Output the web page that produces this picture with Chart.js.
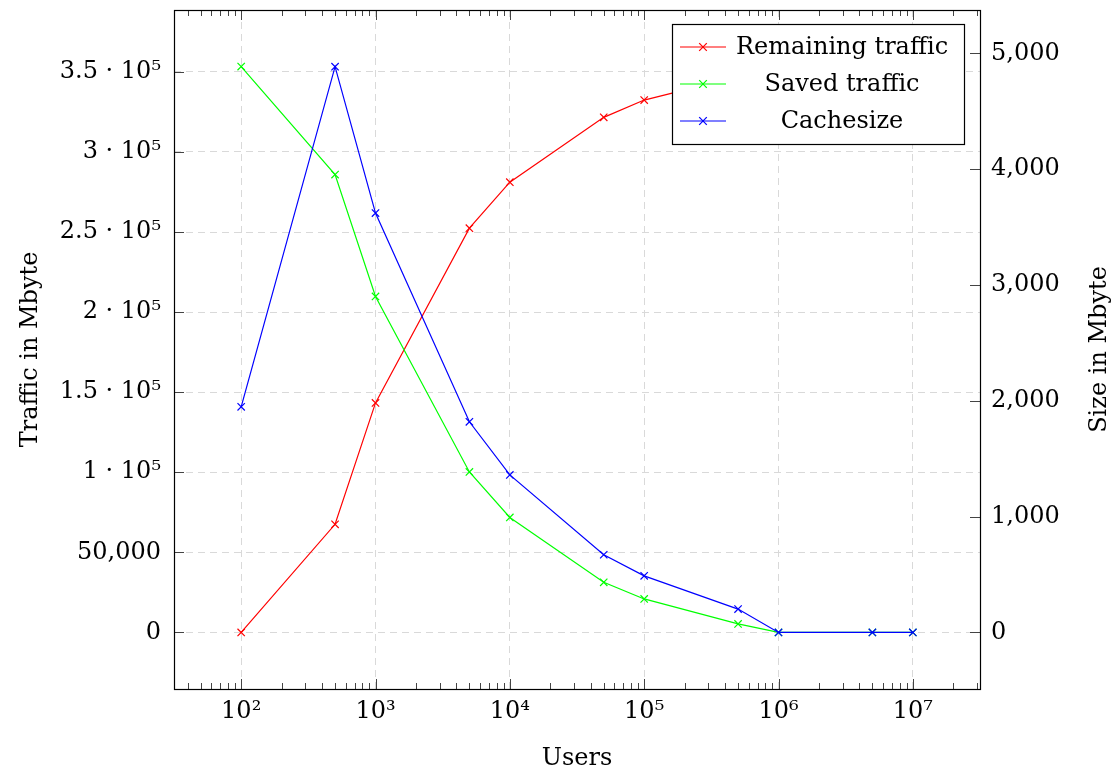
<!DOCTYPE html>
<html>
<head>
<meta charset="utf-8">
<script src="https://cdn.jsdelivr.net/npm/chart.js@4/dist/chart.umd.min.js"></script>
<style>
html,body{margin:0;padding:0;background:#fff;}
#wrap{width:1115px;height:772px;position:relative;}
</style>
</head>
<body>
<div id="wrap"><canvas id="c"></canvas></div>
<script>
// ---- data ----
const users = [100, 500, 1000, 5000, 10000, 50000, 100000, 500000, 1000000, 5000000, 10000000];
const remainingTraffic = [0, 67500, 143300, 252400, 281100, 321600, 332400, 347000, 352000, 352000, 352000];
const savedTraffic = [353300, 285900, 209800, 100200, 71800, 31300, 20900, 5300, 0, 0, 0];
const cacheSize = [1948, 4885, 3621, 1819, 1360, 671, 489, 202, 0, 0, 0];

const seriesNames = ['Remaining traffic', 'Saved traffic', 'Cachesize'];
const seriesColors = ['#ff0000', '#00ff00', '#0000ff'];

const xTickValues = [1e2, 1e3, 1e4, 1e5, 1e6, 1e7];
const xTickLabels = ['10²', '10³', '10⁴', '10⁵', '10⁶', '10⁷'];
const leftTickValues = [0, 50000, 100000, 150000, 200000, 250000, 300000, 350000];
const leftTickLabels = ['0', '50,000', '1 · 10⁵', '1.5 · 10⁵', '2 · 10⁵', '2.5 · 10⁵', '3 · 10⁵', '3.5 · 10⁵'];
const rightTickValues = [0, 1000, 2000, 3000, 4000, 5000];
const rightTickLabels = ['0', '1,000', '2,000', '3,000', '4,000', '5,000'];

const xTitle = 'Users';
const leftTitle = 'Traffic in Mbyte';
const rightTitle = 'Size in Mbyte';

// ---- styling ----
const FONT = 'DejaVu Serif';
const FS = 24;
Chart.defaults.font.family = FONT;
Chart.defaults.font.size = FS;
Chart.defaults.color = '#000';

const gridColor = '#d9d9d9';
const gridDash = [7, 5];

function line(ctx, x1, y1, x2, y2) {
  ctx.beginPath(); ctx.moveTo(x1, y1); ctx.lineTo(x2, y2); ctx.stroke();
}
function cross(ctx, x, y, h) {
  line(ctx, x - h, y - h, x + h, y + h);
  line(ctx, x - h, y + h, x + h, y - h);
}

const decor = {
  id: 'decor',
  afterDatasetsDraw(chart) {
    const { ctx, chartArea: a, scales } = chart;
    const sx = scales.x, yl = scales.yL, yr = scales.yR;
    ctx.save();
    // tick marks (inward)
    ctx.strokeStyle = '#444';
    ctx.lineWidth = 1;
    for (let e = 1; e <= 7; e++) {
      for (let m = 1; m <= 9; m++) {
        const v = m * Math.pow(10, e);
        if (v < sx.min || v > sx.max) continue;
        const px = Math.round(sx.getPixelForValue(v)) + 0.5;
        const len = m === 1 ? 10 : 6;
        line(ctx, px, a.bottom, px, a.bottom - len);
        line(ctx, px, a.top, px, a.top + len);
      }
    }
    leftTickValues.forEach(v => {
      const py = Math.round(yl.getPixelForValue(v)) + 0.5;
      line(ctx, a.left, py, a.left + 10, py);
    });
    rightTickValues.forEach(v => {
      const py = Math.round(yr.getPixelForValue(v)) + 0.5;
      line(ctx, a.right - 10, py, a.right, py);
    });
    // frame
    ctx.strokeStyle = '#000';
    ctx.lineWidth = 1.2;
    ctx.strokeRect(Math.round(a.left) + 0.5, Math.round(a.top) + 0.5,
                   Math.round(a.right - a.left), Math.round(a.bottom - a.top));

    // legend box
    const lx = a.right - 308, ly = a.top + 14, lw = 292, lh = 120;
    ctx.fillStyle = '#fff';
    ctx.fillRect(lx, ly, lw, lh);
    ctx.strokeStyle = '#000';
    ctx.lineWidth = 1.2;
    ctx.strokeRect(Math.round(lx) + 0.5, Math.round(ly) + 0.5, lw, lh);
    ctx.font = FS + 'px "' + FONT + '"';
    ctx.textAlign = 'center';
    ctx.textBaseline = 'middle';
    seriesNames.forEach((name, i) => {
      const ry = ly + 23 + i * 37;
      ctx.strokeStyle = seriesColors[i];
      ctx.lineWidth = 1.2;
      line(ctx, lx + 8, ry, lx + 54, ry);
      cross(ctx, lx + 31, ry, 3.8);
      ctx.fillStyle = '#000';
      ctx.fillText(name, lx + 170, ry + 1);
    });

    // axis titles
    ctx.fillStyle = '#000';
    ctx.textAlign = 'center';
    ctx.textBaseline = 'alphabetic';
    ctx.fillText(xTitle, (a.left + a.right) / 2, 765);
    const cy = (a.top + a.bottom) / 2;
    ctx.save();
    ctx.translate(37, cy);
    ctx.rotate(-Math.PI / 2);
    ctx.fillText(leftTitle, 0, 0);
    ctx.restore();
    ctx.save();
    ctx.translate(1106, cy);
    ctx.rotate(-Math.PI / 2);
    ctx.fillText(rightTitle, 0, 0);
    ctx.restore();
    ctx.restore();
  }
};

function makeSet(i, values, axis, order) {
  return {
    label: seriesNames[i],
    data: users.map((u, k) => ({ x: u, y: values[k] })),
    yAxisID: axis,
    borderColor: seriesColors[i],
    backgroundColor: seriesColors[i],
    borderWidth: 1.2,
    pointStyle: 'crossRot',
    pointRadius: 5.2,
    pointBorderWidth: 1.2,
    pointHoverRadius: 5.2,
    tension: 0,
    fill: false,
    order: order
  };
}

function noPad(s) { s.paddingTop = 0; s.paddingBottom = 0; }

new Chart(document.getElementById('c'), {
  type: 'line',
  data: {
    datasets: [
      makeSet(0, remainingTraffic, 'yL', 2),
      makeSet(1, savedTraffic, 'yL', 1),
      makeSet(2, cacheSize, 'yR', 0)
    ]
  },
  options: {
    responsive: true,
    maintainAspectRatio: false,
    animation: false,
    devicePixelRatio: 1,
    layout: { padding: { top: 10, left: 0, right: 0, bottom: 0 } },
    plugins: { legend: { display: false }, tooltip: { enabled: false }, title: { display: false } },
    events: [],
    scales: {
      x: {
        type: 'logarithmic',
        position: 'bottom',
        min: 31.62,
        max: 31620000,
        grid: { color: gridColor, lineWidth: 1, drawTicks: false },
        border: { display: false, dash: gridDash },
        ticks: {
          autoSkip: false, maxRotation: 0, padding: 8,
          callback: (v) => { const i = xTickValues.indexOf(v); return i >= 0 ? xTickLabels[i] : ''; }
        },
        afterBuildTicks: (axis) => { axis.ticks = xTickValues.map(v => ({ value: v })); },
        afterFit: (s) => { s.height = 83; s.paddingLeft = 0; s.paddingRight = 0; }
      },
      yL: {
        type: 'linear',
        position: 'left',
        min: -35330,
        max: 388630,
        grid: { color: gridColor, lineWidth: 1, drawTicks: false },
        border: { display: false, dash: gridDash },
        ticks: {
          padding: 13,
          callback: (v) => { const i = leftTickValues.indexOf(v); return i >= 0 ? leftTickLabels[i] : ''; }
        },
        afterBuildTicks: (axis) => { axis.ticks = leftTickValues.map(v => ({ value: v })); },
        afterFit: (s) => { s.width = 174; noPad(s); }
      },
      yR: {
        type: 'linear',
        position: 'right',
        min: -488,
        max: 5374,
        grid: { display: false, drawTicks: false },
        border: { display: false },
        ticks: {
          padding: 11,
          callback: (v) => { const i = rightTickValues.indexOf(v); return i >= 0 ? rightTickLabels[i] : ''; }
        },
        afterBuildTicks: (axis) => { axis.ticks = rightTickValues.map(v => ({ value: v })); },
        afterFit: (s) => { s.width = 135; noPad(s); }
      }
    }
  },
  plugins: [decor]
});
</script>
</body>
</html>
